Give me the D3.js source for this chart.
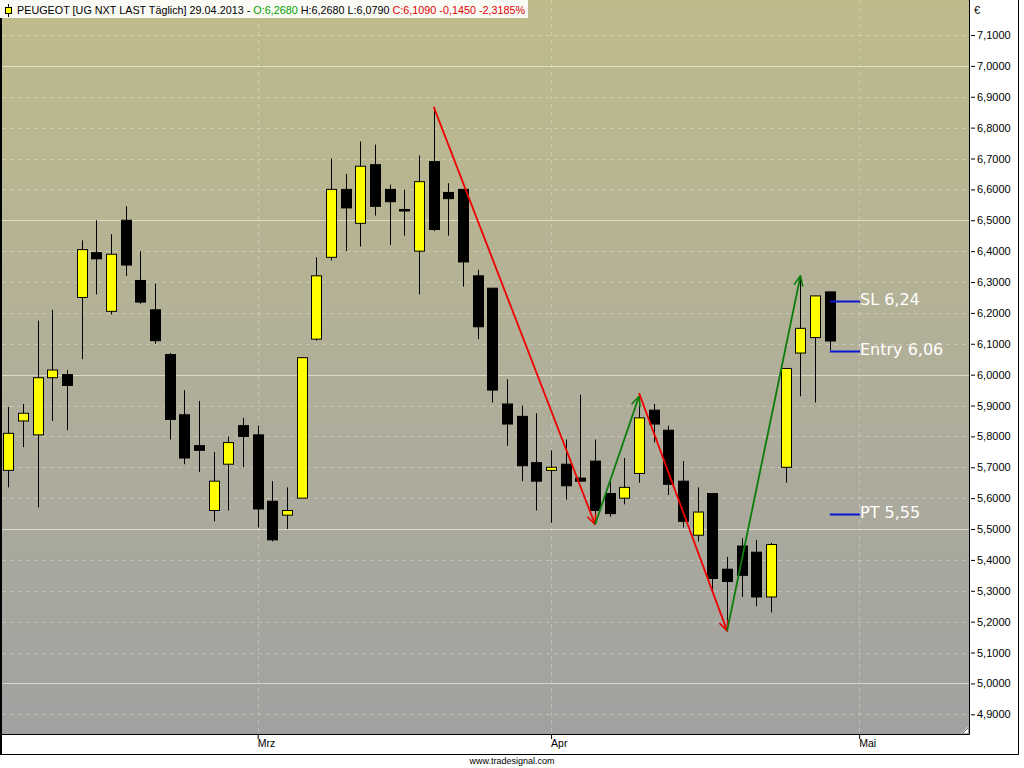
<!DOCTYPE html>
<html>
<head>
<meta charset="utf-8">
<script src="https://cdn.jsdelivr.net/npm/d3@7"></script>
<style>
  html, body { margin: 0; padding: 0; background: #ffffff; }
  svg { display: block; }
  text { font-family: "Liberation Sans", Arial, sans-serif; }
</style>
</head>
<body>
<svg id="chart" width="1024" height="768"></svg>
<script>
// ---------------- DATA ----------------
const dates = [
  "06.02","07.02","08.02","11.02","12.02","13.02","14.02","15.02","18.02","19.02",
  "20.02","21.02","22.02","25.02","26.02","27.02","28.02",
  "01.03","04.03","05.03","06.03","07.03","08.03","11.03","12.03","13.03","14.03",
  "15.03","18.03","19.03","20.03","21.03","22.03","25.03","26.03","27.03","28.03",
  "02.04","03.04","04.04","05.04","08.04","09.04","10.04","11.04","12.04","15.04",
  "16.04","17.04","18.04","19.04","22.04","23.04","24.04","25.04","26.04","29.04"
];
const open  = [5.69,5.85,5.805,5.99,6.00,6.25,6.395,6.205,6.50,6.305,
               6.21,6.065,5.87,5.77,5.56,5.71,5.835,
               5.805,5.59,5.545,5.60,6.115,6.38,6.60,6.49,6.68,6.60,
               6.535,6.40,6.69,6.59,6.60,6.32,6.28,5.905,5.865,5.715,
               5.69,5.71,5.665,5.72,5.615,5.60,5.68,5.885,5.82,5.655,
               5.48,5.615,5.37,5.445,5.425,5.28,5.70,6.07,6.12,6.268];
const high  = [5.895,5.905,6.175,6.21,6.015,6.435,6.50,6.455,6.545,6.40,
               6.295,6.07,5.95,5.915,5.75,5.80,5.86,
               5.835,5.655,5.635,6.055,6.38,6.70,6.65,6.755,6.745,6.615,
               6.60,6.71,6.867,6.62,6.60,6.34,6.28,5.985,5.90,5.875,
               5.755,5.79,5.935,5.79,5.66,5.73,5.925,5.905,5.835,5.72,
               5.635,5.615,5.41,5.47,5.465,5.455,6.02,6.32,6.255,6.268];
const low   = [5.635,5.765,5.57,5.85,5.82,6.05,6.26,6.195,6.32,6.23,
               6.10,5.79,5.71,5.685,5.525,5.56,5.70,
               5.505,5.46,5.50,5.60,6.11,6.37,6.40,6.415,6.515,6.42,
               6.45,6.26,6.465,6.45,6.285,6.115,5.91,5.77,5.655,5.56,
               5.52,5.595,5.655,5.54,5.54,5.58,5.65,5.78,5.61,5.505,
               5.46,5.30,5.175,5.28,5.25,5.23,5.65,5.93,5.91,6.079];
const close = [5.81,5.875,5.99,6.015,5.965,6.405,6.375,6.39,6.355,6.235,
               6.11,5.855,5.73,5.755,5.655,5.78,5.80,
               5.565,5.465,5.56,6.055,6.32,6.60,6.54,6.675,6.545,6.56,
               6.53,6.625,6.47,6.57,6.365,6.155,5.95,5.84,5.705,5.655,
               5.70,5.64,5.655,5.56,5.55,5.635,5.86,5.84,5.645,5.525,
               5.555,5.34,5.33,5.35,5.28,5.45,6.02,6.15,6.255,6.109];

const priceTicks = [4.9,5.0,5.1,5.2,5.3,5.4,5.5,5.6,5.7,5.8,5.9,6.0,
                    6.1,6.2,6.3,6.4,6.5,6.6,6.7,6.8,6.9,7.0,7.1];
const monthLabels = ["Mrz","Apr","Mai"];
const monthIndex  = [17, 37, 58];

// zigzag arrows (bar index, price)
const arrowFromIdx = [29, 40, 43, 49];
const arrowFromVal = [6.867, 5.515, 5.94, 5.17];
const arrowToIdx   = [40, 43, 49, 54];
const arrowToVal   = [5.515, 5.93, 5.17, 6.32];
const arrowKind    = ["down","up","down","up"];

// trade levels
const levelLabels = ["SL 6,24", "Entry 6,06", "PT 5,55"];
const levelValues = [6.237, 6.075, 5.55];

const titleParts = [
  {t:"PEUGEOT [UG NXT LAST Täglich] 29.04.2013 - ", c:"#000000"},
  {t:"O:6,2680", c:"#00a000"},
  {t:" H:6,2680 L:6,0790 ", c:"#000000"},
  {t:"C:6,1090 -0,1450 -2,3185%", c:"#e00000"}
];

// ---------------- LAYOUT ----------------
const plotW = 969, plotH = 734;
const svg = d3.select("#chart");

const x = d3.scaleLinear().domain([0, 56]).range([8.3, 829.8]);
const y = d3.scaleLinear().domain([4.9, 7.1]).range([714.3, 35]);

const defs = svg.append("defs");
const grad = defs.append("linearGradient").attr("id","bg")
  .attr("x1",0).attr("y1",0).attr("x2",0).attr("y2",1);
grad.append("stop").attr("offset","0%").attr("stop-color","#bfbb8b");
grad.append("stop").attr("offset","50%").attr("stop-color","#b1af99");
grad.append("stop").attr("offset","100%").attr("stop-color","#a1a1a1");

const arrowColor = {down:"#ee0000", up:"#0a7d0a"};
Object.keys(arrowColor).forEach(k => {
  defs.append("marker").attr("id","m-"+k)
    .attr("viewBox","0 0 12 12").attr("refX",11).attr("refY",6)
    .attr("markerWidth",12).attr("markerHeight",12)
    .attr("markerUnits","userSpaceOnUse").attr("orient","auto")
    .append("path").attr("d","M1,1.5 L11,6 L1,10.5")
    .attr("fill","none").attr("stroke",arrowColor[k]).attr("stroke-width",1.6);
});

// plot background
svg.append("rect").attr("x",0).attr("y",0).attr("width",plotW).attr("height",plotH)
  .attr("fill","url(#bg)");

// horizontal grid
const grid = svg.append("g");
priceTicks.forEach(v => {
  const yy = Math.round(y(v)) + 0.5;
  const major = Math.abs(v*2 - Math.round(v*2)) < 1e-6;
  grid.append("line").attr("x1",2).attr("x2",plotW).attr("y1",yy).attr("y2",yy)
    .attr("stroke", major ? "rgba(255,255,240,0.55)" : "rgba(255,255,240,0.28)")
    .attr("stroke-width",1)
    .attr("stroke-dasharray", major ? null : "4,4");
});
// vertical month grid
monthIndex.forEach(i => {
  const xx = Math.round(x(i)) + 0.5;
  grid.append("line").attr("x1",xx).attr("x2",xx).attr("y1",0).attr("y2",plotH)
    .attr("stroke","rgba(255,255,240,0.28)").attr("stroke-dasharray","4,4");
});

// candles
const bars = d3.range(dates.length).map(i => ({i, o:open[i], h:high[i], l:low[i], c:close[i]}));
const cg = svg.append("g");
const bw = 10;
const cand = cg.selectAll("g.c").data(bars).join("g");
cand.append("line")
  .attr("x1", d => Math.round(x(d.i)) + 0.5).attr("x2", d => Math.round(x(d.i)) + 0.5)
  .attr("y1", d => y(d.h)).attr("y2", d => y(d.l))
  .attr("stroke","#000").attr("stroke-width",1);
cand.append("rect")
  .attr("x", d => Math.round(x(d.i)) - bw/2 + 0.5)
  .attr("width", bw)
  .attr("y", d => y(Math.max(d.o, d.c)))
  .attr("height", d => Math.max(1, Math.abs(y(d.o) - y(d.c))))
  .attr("fill", d => d.c >= d.o ? "#ffff00" : "#000000")
  .attr("stroke","#000").attr("stroke-width",1);

// arrows
arrowFromIdx.forEach((fi, k) => {
  svg.append("line")
    .attr("x1", x(fi)).attr("y1", y(arrowFromVal[k]))
    .attr("x2", x(arrowToIdx[k])).attr("y2", y(arrowToVal[k]))
    .attr("stroke", arrowColor[arrowKind[k]]).attr("stroke-width",1.8)
    .attr("marker-end","url(#m-"+arrowKind[k]+")");
});

// levels
levelValues.forEach((v, k) => {
  const yy = Math.round(y(v)) + 0.5;
  svg.append("line").attr("x1", x(56)).attr("x2", 860).attr("y1", yy).attr("y2", yy)
    .attr("stroke","#0a14d2").attr("stroke-width",2);
  svg.append("text").attr("x", 860).attr("y", yy - 2).attr("dy","0.35em")
    .attr("fill","#ffffff").style("font-family","'DejaVu Sans', sans-serif")
    .style("font-size","16px").text(levelLabels[k]);
});

// frame lines
svg.append("rect").attr("x",0).attr("y",0).attr("width",2).attr("height",755).attr("fill","#000");
svg.append("line").attr("x1",0).attr("x2",plotW+0.5).attr("y1",plotH+0.5).attr("y2",plotH+0.5).attr("stroke","#000");
svg.append("line").attr("x1",plotW+0.5).attr("x2",plotW+0.5).attr("y1",0).attr("y2",plotH+0.5).attr("stroke","#000");
svg.append("line").attr("x1",1018.5).attr("x2",1018.5).attr("y1",0).attr("y2",754.5).attr("stroke","#000");
svg.append("line").attr("x1",0).attr("x2",1018.5).attr("y1",754.5).attr("y2",754.5).attr("stroke","#000");
// resize glyph
svg.append("path").attr("d","M962,733 L968,727 L968,733 Z").attr("fill","#ffffff");
svg.append("line").attr("x1",963).attr("y1",733).attr("x2",968).attr("y2",728).attr("stroke","#444").attr("stroke-width",0.8);

// right axis
const yAxis = d3.axisRight(y).tickValues(priceTicks).tickSize(4).tickPadding(2)
  .tickFormat(d => d3.format(".4f")(d).replace(".", ","));
const ya = svg.append("g").attr("transform","translate(971,0)").call(yAxis);
ya.select(".domain").remove();
ya.selectAll("line").attr("stroke","#000");
ya.selectAll("text").style("font-size","11px").style("font-family","'Liberation Sans', Arial, sans-serif").attr("fill","#000");
svg.append("text").attr("x",974).attr("y",14).style("font-size","11px").text("€");

// bottom axis
const xAxis = d3.axisBottom(x).tickValues(monthIndex).tickSize(4).tickPadding(1)
  .tickFormat((d, k) => monthLabels[k]);
const xa = svg.append("g").attr("transform","translate(0,"+(plotH+1)+")").call(xAxis);
xa.select(".domain").remove();
xa.selectAll("line").attr("stroke","#000");
xa.selectAll("text").attr("text-anchor","start").attr("dx","-0.5")
  .style("font-size","10.5px").attr("fill","#000");

// footer
svg.append("text").attr("x",512).attr("y",764).attr("text-anchor","middle")
  .style("font-size","9px").attr("fill","#000").text("www.tradesignal.com");

// title box
svg.append("rect").attr("x",0).attr("y",0).attr("width",528).attr("height",18).attr("fill","#fbfbf6");
svg.append("line").attr("x1",8.5).attr("x2",8.5).attr("y1",4).attr("y2",17).attr("stroke","#000");
svg.append("rect").attr("x",5.5).attr("y",7.5).attr("width",6).attr("height",6)
  .attr("fill","#ffff00").attr("stroke","#000");
const tt = svg.append("text").attr("x",17).attr("y",14)
  .style("font-size","10.8px");
titleParts.forEach(p => tt.append("tspan").attr("fill", p.c).text(p.t));
</script>
</body>
</html>
